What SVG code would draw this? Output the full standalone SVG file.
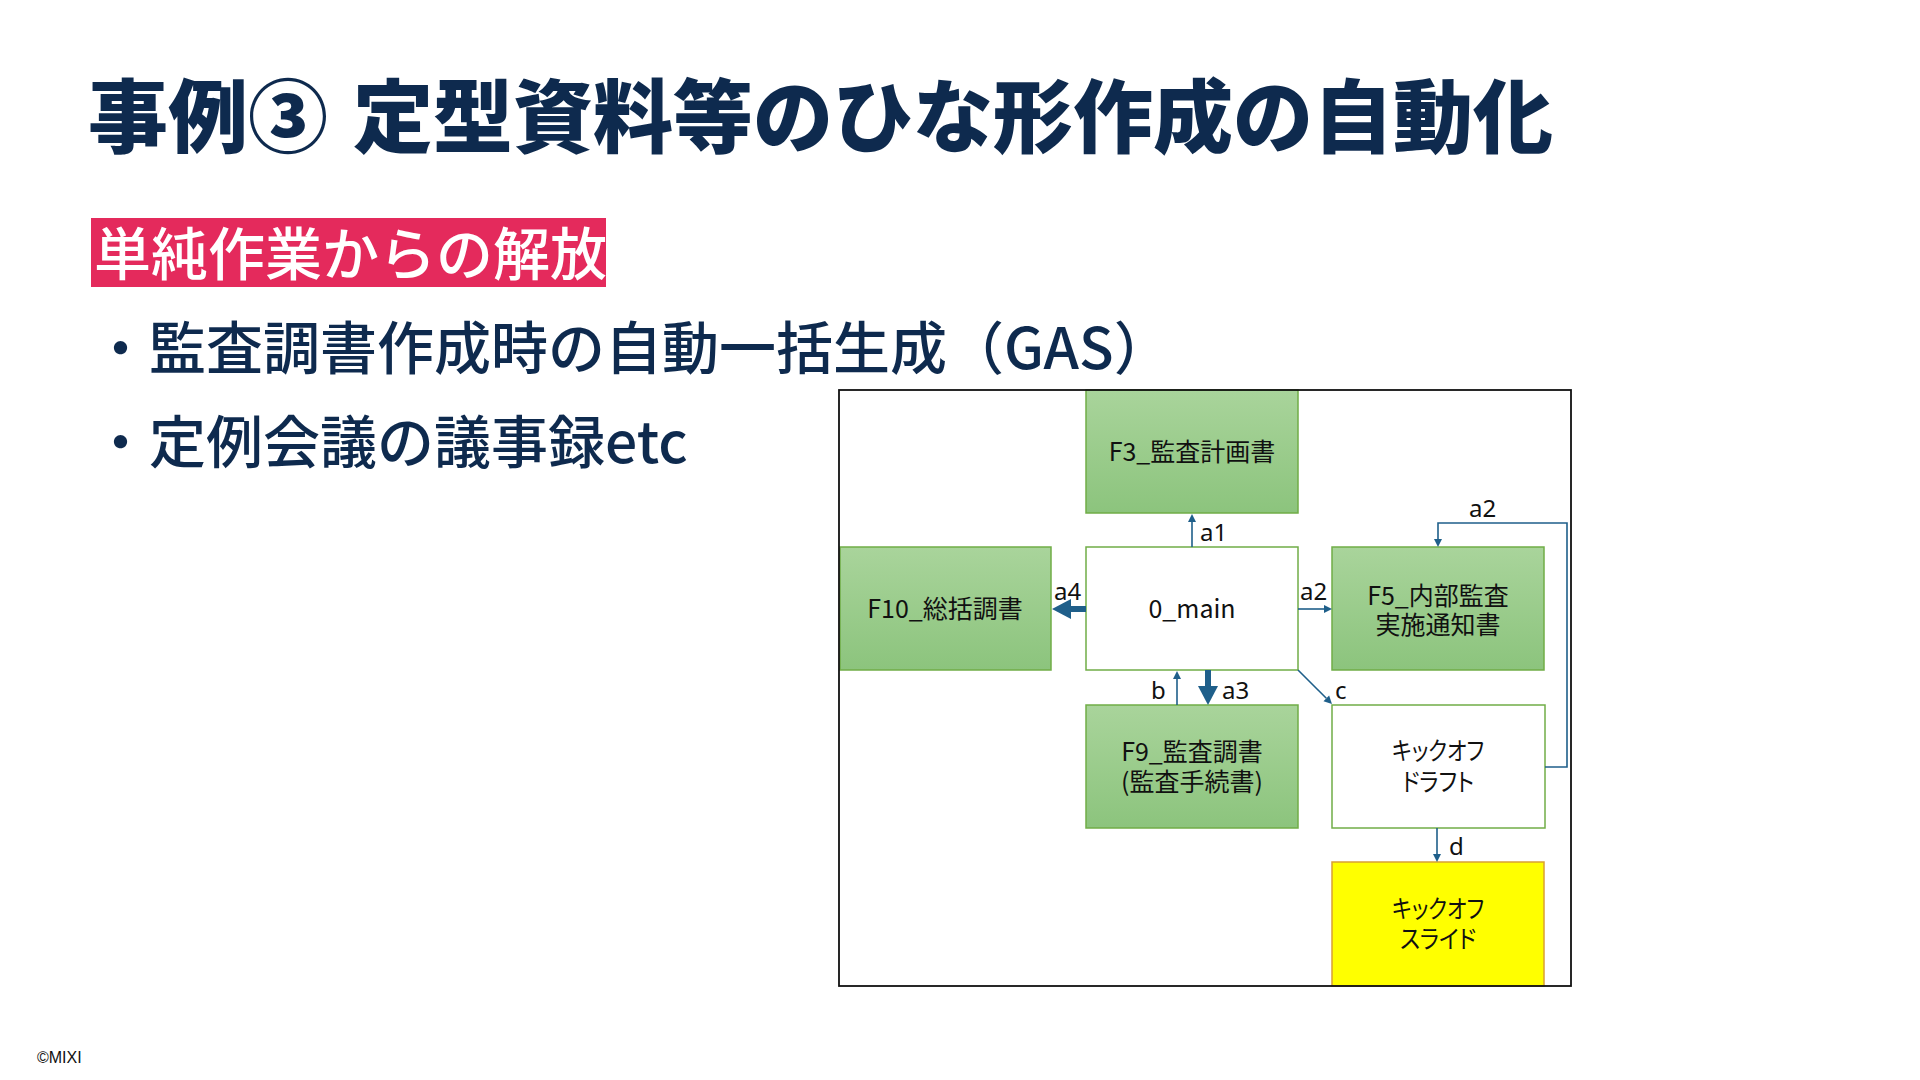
<svg xmlns="http://www.w3.org/2000/svg" width="1920" height="1080" viewBox="0 0 1920 1080">
<style>
.title{font-family:"Noto Sans CJK JP","Noto Sans",sans-serif;font-weight:900;font-size:80px;fill:#0e2a4e}
.bullet{font-family:"Noto Sans CJK JP","Noto Sans",sans-serif;font-weight:500;font-size:57px;fill:#0e2a4e}
.tag{font-family:"Noto Sans CJK JP","Noto Sans",sans-serif;font-weight:500;font-size:57px;fill:#ffffff}
.box{fill:url(#green);stroke:#70ad47;stroke-width:1.5}
.wbox{fill:#ffffff;stroke:#70ad47;stroke-width:1.5}
.ybox{fill:#ffff00;stroke:#d9a033;stroke-width:1.5}
.nt{font-family:"Noto Sans CJK JP","Noto Sans",sans-serif;font-size:25px;fill:#111;text-anchor:middle}
.kana{font-feature-settings:"palt"}
.lbl{font-family:"Noto Sans","Noto Sans CJK JP",sans-serif;font-size:24px;fill:#111}
.thin{stroke:#1f5f8a;stroke-width:1.6;fill:none;marker-end:url(#ah)}
.thick{stroke:#1f5f8a;stroke-width:6;fill:none;marker-end:url(#ahb)}
</style>
<defs>
<linearGradient id="green" x1="0" y1="0" x2="0" y2="1">
<stop offset="0" stop-color="#a9d49b"/>
<stop offset="1" stop-color="#8cc47d"/>
</linearGradient>
<marker id="ah" markerUnits="userSpaceOnUse" markerWidth="9" markerHeight="8" refX="0" refY="4" orient="auto" overflow="visible">
<path d="M0,0 L8,4 L0,8 z" fill="#1f5f8a"/>
</marker>
<marker id="ahb" markerUnits="userSpaceOnUse" markerWidth="20" markerHeight="20" refX="0" refY="10" orient="auto" overflow="visible">
<path d="M0,0 L19,10 L0,20 z" fill="#1f5f8a"/>
</marker>
</defs>
<rect width="1920" height="1080" fill="#ffffff"/>
<g id="title">
<text class="title" x="88" y="146">事例③</text>
<text class="title" x="353" y="146">定型資料等のひな形作成の自動化</text>
</g>
<g id="tag">
<rect x="91" y="218" width="515" height="69" fill="#e42a5c"/>
<text class="tag" x="94" y="275">単純作業からの解放</text>
</g>
<g id="bullets">
<text class="bullet" x="92" y="369">・監査調書作成時の自動一括生成（GAS）</text>
<text class="bullet" x="92" y="463">・定例会議の議事録etc</text>
</g>
<g id="F3">
<rect class="box" x="1086" y="390" width="212" height="123"/>
<text class="nt" x="1192" y="461">F3_監査計画書</text>
</g>
<g id="main">
<rect class="wbox" x="1086" y="547" width="212" height="123"/>
<text class="nt" x="1192" y="618">0_main</text>
</g>
<g id="F10">
<rect class="box" x="840" y="547" width="211" height="123"/>
<text class="nt" x="945" y="618">F10_総括調書</text>
</g>
<g id="F5">
<rect class="box" x="1332" y="547" width="212" height="123"/>
<text class="nt"><tspan x="1438" y="605">F5_内部監査</tspan><tspan x="1438" y="634">実施通知書</tspan></text>
</g>
<g id="F9">
<rect class="box" x="1086" y="705" width="212" height="123"/>
<text class="nt"><tspan x="1192" y="761">F9_監査調書</tspan><tspan x="1192" y="791">(監査手続書)</tspan></text>
</g>
<g id="draft">
<rect class="wbox" x="1332" y="705" width="213" height="123"/>
<text class="nt kana"><tspan x="1438" y="760" textLength="92" lengthAdjust="spacingAndGlyphs">キックオフ</tspan><tspan x="1438" y="791" textLength="72" lengthAdjust="spacingAndGlyphs">ドラフト</tspan></text>
</g>
<g id="slide">
<rect class="ybox" x="1332" y="862" width="212" height="124"/>
<text class="nt kana"><tspan x="1438" y="918" textLength="92" lengthAdjust="spacingAndGlyphs">キックオフ</tspan><tspan x="1438" y="948" textLength="76" lengthAdjust="spacingAndGlyphs">スライド</tspan></text>
</g>
<g id="connectors">
<line class="thin" x1="1192" y1="547" x2="1192" y2="522"/>
<line class="thick" x1="1086" y1="609" x2="1071" y2="609"/>
<line class="thin" x1="1298" y1="609" x2="1324" y2="609"/>
<polyline class="thin" points="1545,767 1567,767 1567,523 1438,523 1438,539"/>
<line class="thin" x1="1177" y1="705" x2="1177" y2="679"/>
<line class="thick" x1="1208" y1="670" x2="1208" y2="686"/>
<line class="thin" x1="1298" y1="670" x2="1326.3" y2="698.3"/>
<line class="thin" x1="1437" y1="828" x2="1437" y2="854"/>
<text class="lbl" x="1200" y="541">a1</text>
<text class="lbl" x="1054" y="600">a4</text>
<text class="lbl" x="1300" y="600">a2</text>
<text class="lbl" x="1469" y="517">a2</text>
<text class="lbl" x="1151" y="699">b</text>
<text class="lbl" x="1222" y="699">a3</text>
<text class="lbl" x="1335" y="699">c</text>
<text class="lbl" x="1449" y="855">d</text>
</g>
<rect id="frame" x="839" y="390" width="732" height="596" fill="none" stroke="#111" stroke-width="1.8"/>
<text x="37" y="1063" font-family="Liberation Sans, Arial, sans-serif" font-size="16" fill="#111">©MIXI</text>
</svg>
